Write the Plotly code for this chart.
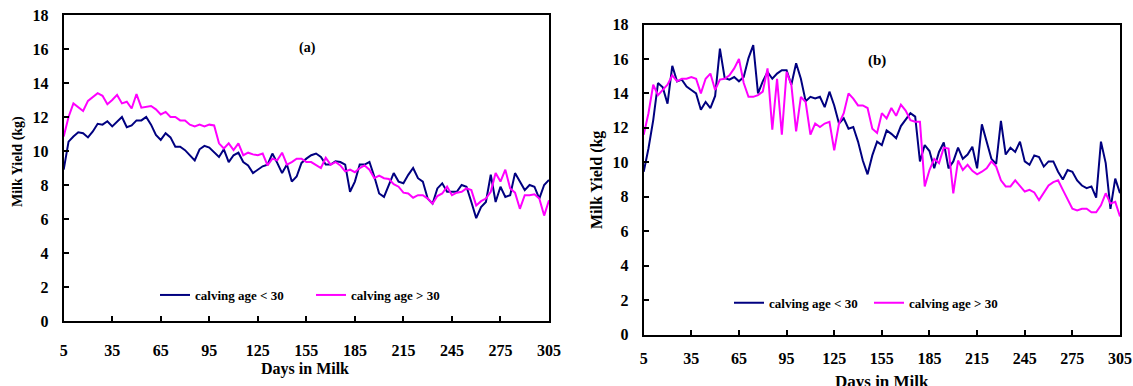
import plotly.graph_objects as go

# Days in milk (sampled every 3 days)
days = [5, 8, 11, 14, 17, 20, 23, 26, 29, 32, 35, 38, 41, 44, 47, 50, 53, 56, 59, 62,
        65, 68, 71, 74, 77, 80, 83, 86, 89, 92, 95, 98, 101, 104, 107, 110, 113, 116, 119, 122,
        125, 128, 131, 134, 137, 140, 143, 146, 149, 152, 155, 158, 161, 164, 167, 170, 173, 176, 179, 182,
        185, 188, 191, 194, 197, 200, 203, 206, 209, 212, 215, 218, 221, 224, 227, 230, 233, 236, 239, 242,
        245, 248, 251, 254, 257, 260, 263, 266, 269, 272, 275, 278, 281, 284, 287, 290, 293, 296, 299, 302,
        305]

# Panel (a)
a_lt30 = [8.9, 10.55, 10.85, 11.1, 11.05, 10.8, 11.15, 11.6, 11.55, 11.75,
          11.45, 11.75, 12.0, 11.4, 11.5, 11.8, 11.8, 12.0, 11.55, 10.95,
          10.65, 11.05, 10.8, 10.25, 10.25, 10.05, 9.75, 9.45, 10.1, 10.3,
          10.2, 9.9, 9.65, 10.1, 9.35, 9.75, 9.9, 9.35, 9.15, 8.7,
          8.9, 9.1, 9.2, 9.85, 9.3, 8.7, 9.2, 8.2, 8.5, 9.3,
          9.55, 9.75, 9.85, 9.65, 9.2, 9.2, 9.4, 9.35, 9.2, 7.6,
          8.2, 9.2, 9.2, 9.35, 8.5, 7.5, 7.3, 8.0, 8.7, 8.2,
          8.1, 8.6, 9.0, 8.4, 8.2, 7.2, 6.9, 7.8, 8.1, 7.6,
          7.6, 7.6, 8.0, 7.9, 7.0, 6.05, 6.7, 7.0, 8.6, 7.0,
          7.9, 7.3, 7.4, 8.7, 8.2, 7.7, 8.0, 7.9, 7.2, 8.0,
          8.3]
a_gt30 = [10.85, 12.0, 12.8, 12.6, 12.35, 12.95, 13.15, 13.4, 13.25, 12.75,
          13.0, 13.3, 12.8, 12.9, 12.5, 13.35, 12.55, 12.6, 12.65, 12.45,
          12.15, 12.3, 12.0, 12.0, 11.8, 11.8, 11.55, 11.45, 11.55, 11.45,
          11.55, 11.5, 10.45, 10.15, 10.45, 10.05, 10.45, 9.75, 9.9, 9.8,
          9.75, 9.85, 9.15, 9.55, 9.45, 9.9, 9.2, 9.35, 9.55, 9.55,
          9.35, 9.35, 9.15, 9.0, 9.6, 9.2, 9.35, 9.15, 8.8, 8.9,
          8.75, 9.0, 9.15, 8.9, 8.4, 8.55, 8.4, 8.35, 8.05, 7.9,
          7.55, 7.5, 7.25, 7.4, 7.4, 7.2, 6.9, 7.35, 7.5, 7.9,
          7.4, 7.55, 7.6, 7.8, 7.7, 6.8, 7.05, 7.2, 7.6, 8.7,
          8.2, 8.9, 7.8, 7.55, 6.6, 7.4, 7.4, 7.45, 7.2, 6.2,
          7.1]

# Panel (b)
b_lt30 = [9.45, 10.8, 12.45, 14.6, 14.35, 13.4, 15.6, 14.7, 14.8, 14.4,
          14.2, 14.0, 13.05, 13.5, 13.15, 13.85, 16.6, 14.9, 14.8, 14.95,
          14.7, 14.95, 16.05, 16.8, 14.0, 14.7, 15.25, 14.85, 15.15, 15.35,
          15.35, 14.5, 15.75, 14.85, 13.55, 13.8, 13.7, 13.8, 13.2, 14.1,
          13.3, 12.25, 12.55, 11.95, 12.05, 11.2, 10.1, 9.3, 10.4, 11.2,
          11.0, 11.85, 11.65, 11.4, 12.1, 12.45, 12.85, 12.65, 10.05, 11.0,
          10.65, 9.65, 10.6, 11.15, 9.65, 10.05, 10.85, 10.2, 10.45, 10.9,
          9.65, 12.2, 11.2, 10.2, 9.9, 12.4, 10.45, 10.85, 10.6, 11.2,
          10.05, 9.85, 10.4, 10.3, 9.75, 10.05, 10.05, 9.45, 9.0, 9.55,
          9.45, 8.95, 8.65, 8.5, 8.6, 7.95, 11.2, 9.95, 7.3, 9.05,
          8.2]
b_gt30 = [11.6, 12.85, 14.5, 13.9, 14.2, 14.5, 15.05, 14.7, 14.85, 14.85,
          14.95, 14.85, 14.0, 14.85, 15.15, 14.2, 14.8, 14.85, 15.05, 15.45,
          16.0, 14.6, 13.8, 13.8, 13.9, 14.1, 15.45, 11.9, 14.85, 11.6,
          15.25, 14.5, 11.8, 13.8, 13.5, 11.6, 12.25, 12.05, 12.25, 12.35,
          10.7, 12.25, 12.85, 14.0, 13.7, 13.3, 13.3, 13.15, 11.95, 11.7,
          12.85, 12.55, 13.15, 12.7, 13.35, 13.0, 12.45, 12.35, 12.35, 8.6,
          9.55, 10.2, 9.95, 10.85, 10.8, 8.2, 10.1, 9.55, 9.85, 9.5,
          9.3, 9.45, 9.65, 10.05, 9.75, 8.95, 8.6, 8.6, 8.95, 8.65,
          8.3, 8.4, 8.25, 7.8, 8.2, 8.65, 8.85, 8.95, 8.4, 7.8,
          7.3, 7.2, 7.3, 7.3, 7.1, 7.1, 7.5, 8.2, 7.6, 7.7,
          6.85]

x_ticks = [5, 35, 65, 95, 125, 155, 185, 215, 245, 275, 305]
y_ticks = [0, 2, 4, 6, 8, 10, 12, 14, 16, 18]
series_names = ["calving age < 30", "calving age > 30"]
NAVY = "#000080"
MAG = "#FF00FF"
FONT = "Liberation Serif"

W, H = 1133, 386

def px(x):
    return x / W

def py(y):
    return 1 - y / H

fig = go.Figure()
fig.add_trace(go.Scatter(x=days, y=a_lt30, mode="lines", name=series_names[0],
                         line=dict(color=NAVY, width=2), xaxis="x", yaxis="y", legend="legend"))
fig.add_trace(go.Scatter(x=days, y=a_gt30, mode="lines", name=series_names[1],
                         line=dict(color=MAG, width=2), xaxis="x", yaxis="y", legend="legend"))
fig.add_trace(go.Scatter(x=days, y=b_lt30, mode="lines", name=series_names[0],
                         line=dict(color=NAVY, width=2), xaxis="x2", yaxis="y2", legend="legend2"))
fig.add_trace(go.Scatter(x=days, y=b_gt30, mode="lines", name=series_names[1],
                         line=dict(color=MAG, width=2), xaxis="x2", yaxis="y2", legend="legend2"))

tickfont = dict(family=FONT, size=16, color="black", weight="bold")

def xaxis(domain, anchor, standoff):
    return dict(domain=domain, anchor=anchor, range=[5, 305], tickvals=x_ticks,
                ticks="inside", ticklen=5, tickwidth=2, tickcolor="black",
                showline=True, linewidth=2, linecolor="black", mirror=True,
                showgrid=False, zeroline=False, tickfont=tickfont,
                ticklabelstandoff=standoff, ticklabeloverflow="allow")

def yaxis(domain, anchor, standoff):
    return dict(domain=domain, anchor=anchor, range=[0, 18], tickvals=y_ticks,
                ticks="inside", ticklen=5, tickwidth=2, tickcolor="black",
                showline=True, linewidth=2, linecolor="black", mirror=True,
                showgrid=False, zeroline=False, tickfont=tickfont,
                ticklabelstandoff=standoff, ticklabeloverflow="allow")

legfont = dict(family=FONT, size=13, color="black", weight="bold")

fig.update_layout(
    width=W, height=H,
    margin=dict(l=0, r=0, t=0, b=0, autoexpand=False),
    paper_bgcolor="white", plot_bgcolor="white",
    font=dict(family=FONT, color="black"),
    xaxis=xaxis([px(63.7), px(549)], "y", 14),
    yaxis=yaxis([py(321), py(15)], "x", 10),
    xaxis2=xaxis([px(643.7), px(1120)], "y2", 8),
    yaxis2=yaxis([py(334.5), py(24.5)], "x2", 10),
    legend=dict(orientation="h", x=px(155), y=py(295), xanchor="left", yanchor="middle",
                entrywidth=111, entrywidthmode="pixels", font=legfont,
                bgcolor="rgba(0,0,0,0)", borderwidth=0),
    legend2=dict(orientation="h", x=px(729), y=py(302.7), xanchor="left", yanchor="middle",
                 entrywidth=95, entrywidthmode="pixels", font=legfont,
                 bgcolor="rgba(0,0,0,0)", borderwidth=0),
    showlegend=True,
)

ann_font = dict(family=FONT, color="black", weight="bold")

def label(text, x, y, size, angle=0, yanchor="middle"):
    fig.add_annotation(text=text, x=px(x), y=py(y), xref="paper", yref="paper",
                       xanchor="center", yanchor=yanchor, textangle=angle,
                       showarrow=False, font=dict(size=size, **ann_font))

label("(a)", 307, 48, 14)
label("(b)", 877, 60, 15)
label("Milk Yield (kg)", 18, 162, 14, angle=-90)
label("Milk Yield (kg", 597, 180, 16, angle=-90)
label("Days in Milk", 305, 369, 16)
label("Days in Milk", 882, 370, 17, yanchor="top")

# remove the default 8px page margin so the figure fills the window exactly
fig.write_html("out.html",
               config={"displayModeBar": False},
               post_script="document.body.style.margin='0';document.body.style.overflow='hidden';")
